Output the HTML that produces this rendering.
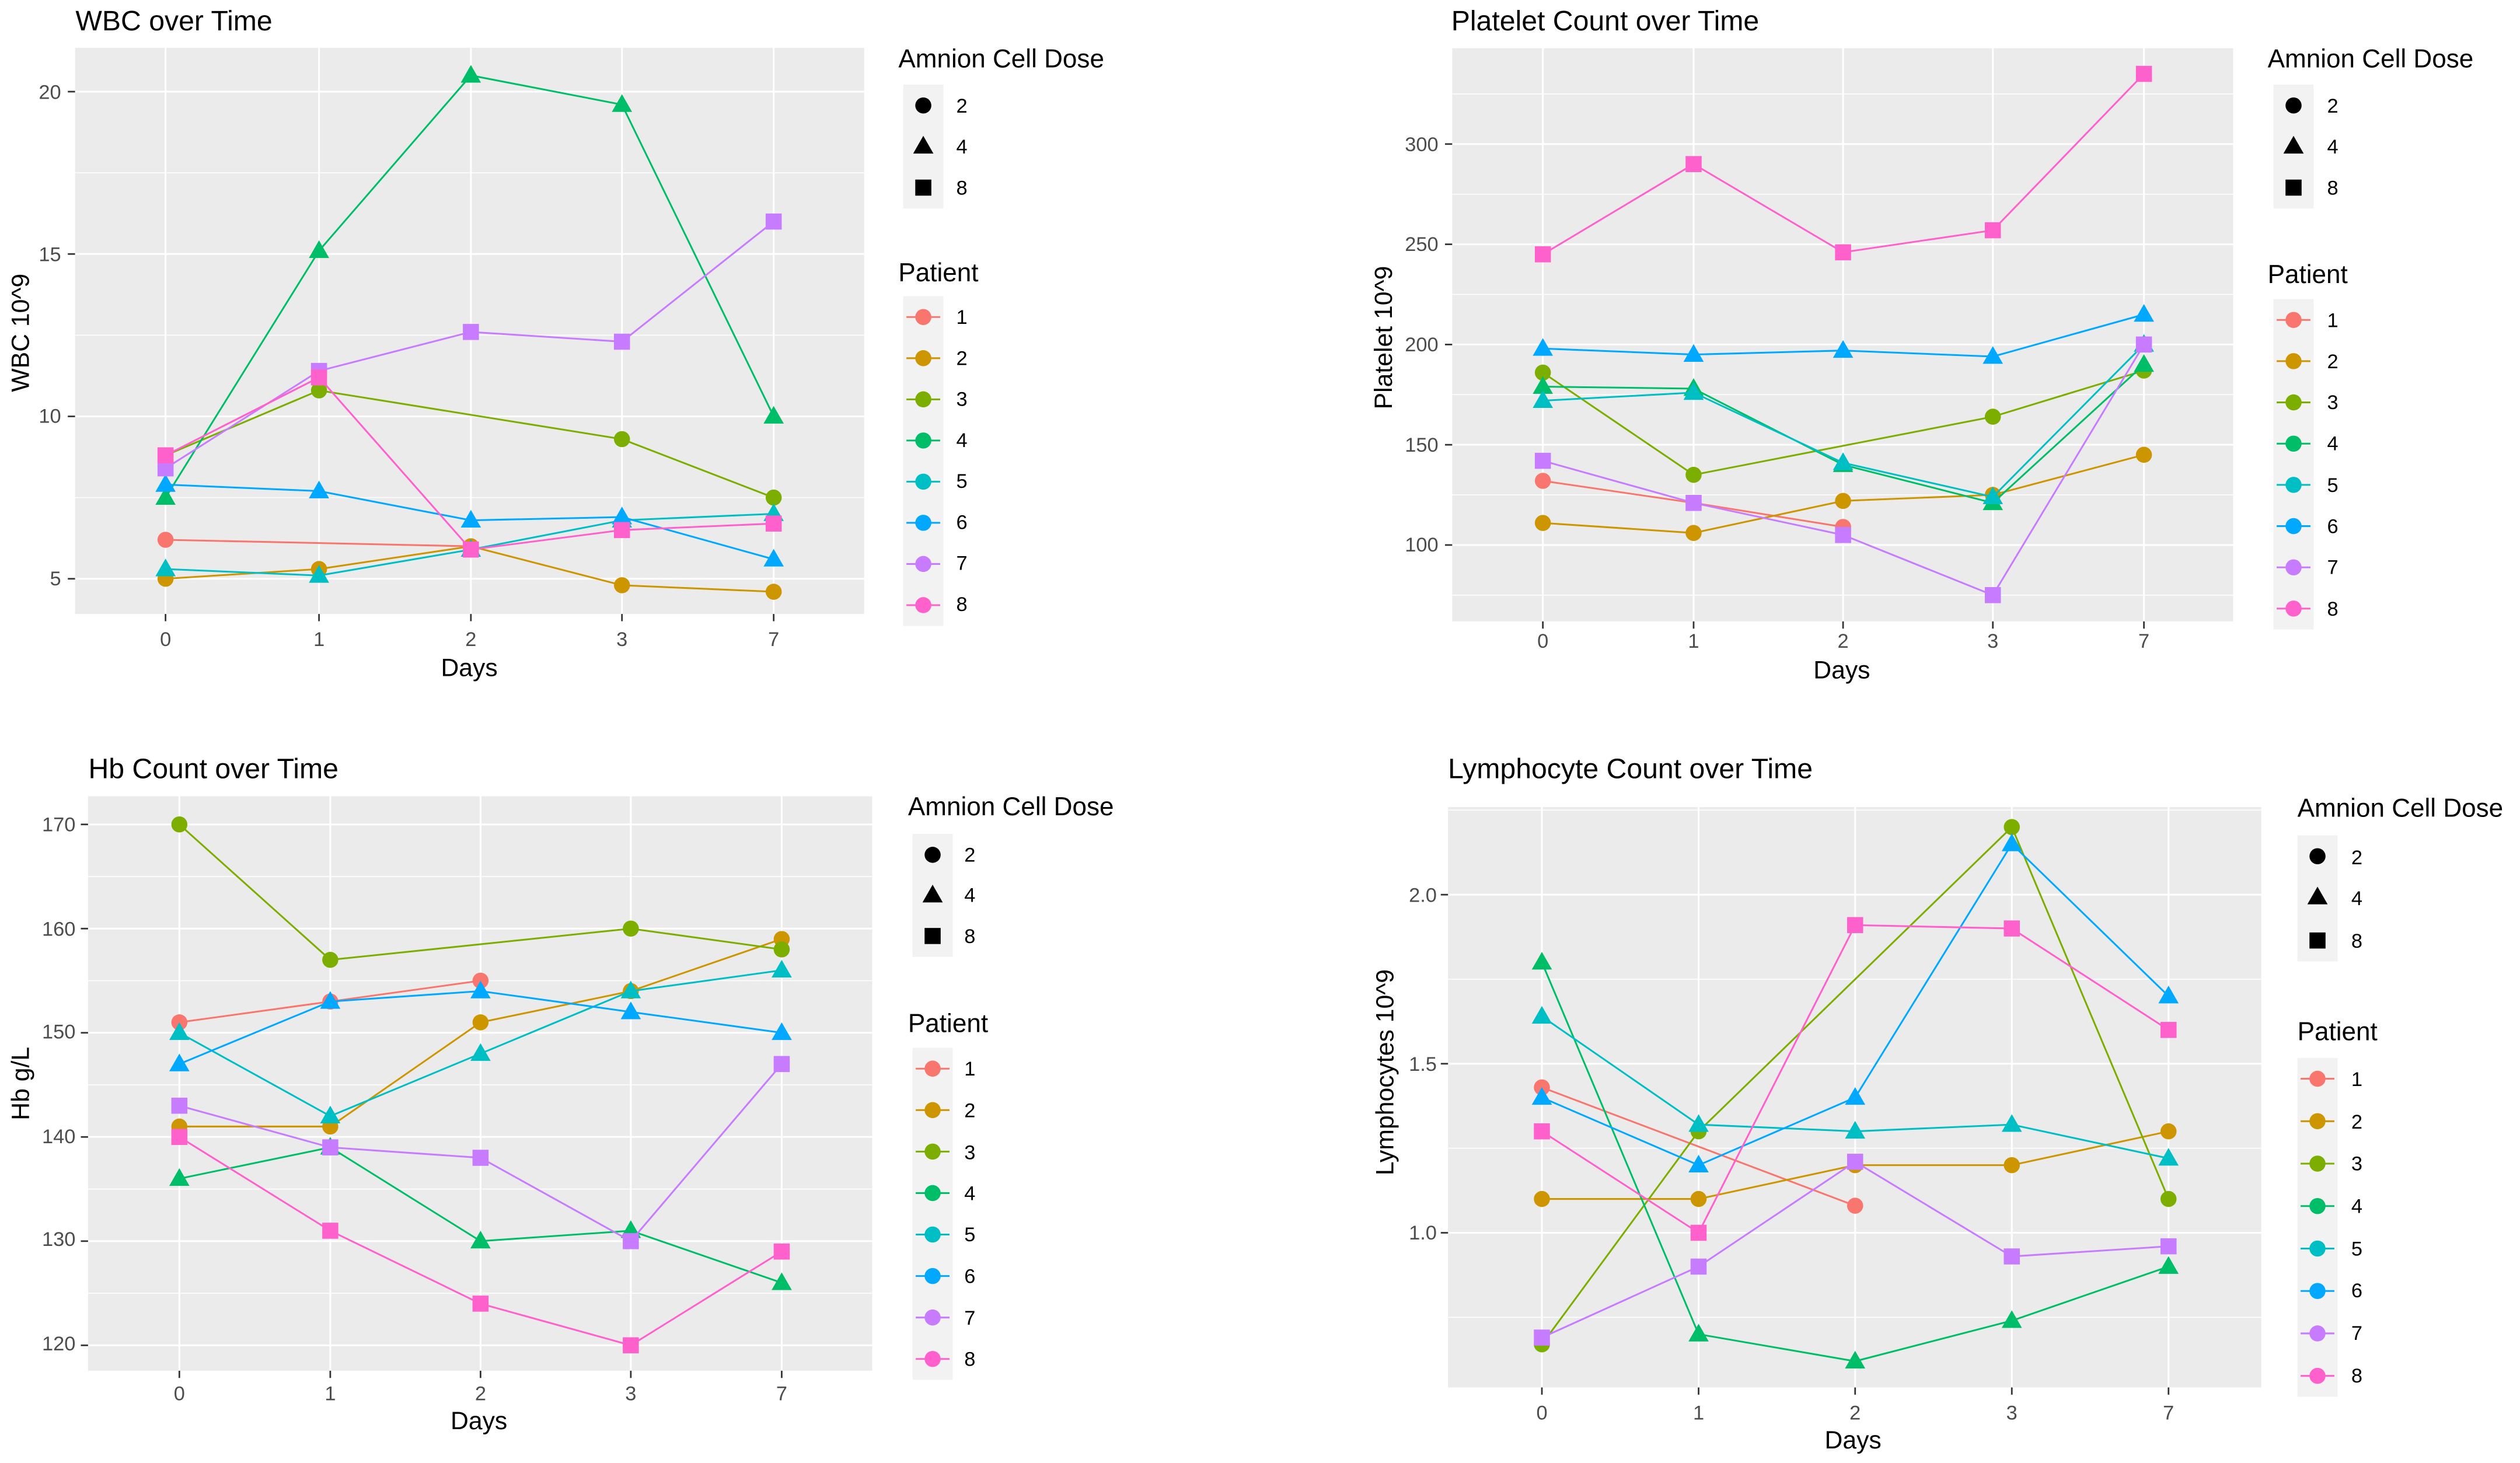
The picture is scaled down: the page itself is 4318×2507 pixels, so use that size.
<!DOCTYPE html>
<html><head><meta charset="utf-8"><style>
html,body{margin:0;padding:0;background:#fff;}
svg{display:block;}
text{font-family:"Liberation Sans",sans-serif;}
.t{font-size:17.5px;fill:#000;}
.tk{font-size:12.5px;fill:#4d4d4d;}
.ax{font-size:15.5px;fill:#000;}
.lt{font-size:16px;fill:#000;}
.ll{font-size:12.5px;fill:#000;}
</style></head><body>
<svg id="s" width="4318" height="2507" viewBox="0 0 1568 910" preserveAspectRatio="none" xmlns="http://www.w3.org/2000/svg">
<g id="g"></g>
<!-- WBC -->
<text class="t" x="47" y="18.8">WBC over Time</text>
<g class="tk" text-anchor="end"><text x="38" y="61.5">20</text><text x="38" y="162.5">15</text><text x="38" y="263">10</text><text x="38" y="364">5</text></g>
<g class="tk" text-anchor="middle"><text x="103" y="401.8">0</text><text x="198.5" y="401.8">1</text><text x="293" y="401.8">2</text><text x="387" y="401.8">3</text><text x="481.4" y="401.8">7</text></g>
<text class="ax" x="292" y="420.5" text-anchor="middle">Days</text>
<text class="ax" transform="translate(18,207) rotate(-90)" text-anchor="middle">WBC  10^9</text>
<text class="lt" x="559" y="42">Amnion Cell Dose</text>
<text class="lt" x="559" y="175">Patient</text>
<g class="ll"><text x="595" y="70">2</text><text x="595" y="95.5">4</text><text x="595" y="121">8</text>
<text x="595" y="201.5">1</text><text x="595" y="227">2</text><text x="595" y="252.5">3</text><text x="595" y="278">4</text><text x="595" y="303.5">5</text><text x="595" y="329">6</text><text x="595" y="354.5">7</text><text x="595" y="380">8</text></g>
<!-- Platelet -->
<text class="t" x="903" y="18.8">Platelet Count over Time</text>
<g class="tk" text-anchor="end"><text x="895" y="94">300</text><text x="895" y="156">250</text><text x="895" y="218.5">200</text><text x="895" y="281">150</text><text x="895" y="343">100</text></g>
<g class="tk" text-anchor="middle"><text x="960" y="403">0</text><text x="1053.8" y="403">1</text><text x="1146.8" y="403">2</text><text x="1240" y="403">3</text><text x="1334" y="403">7</text></g>
<text class="ax" x="1146" y="422" text-anchor="middle">Days</text>
<text class="ax" transform="translate(866,210) rotate(-90)" text-anchor="middle">Platelet  10^9</text>
<text class="lt" x="1411" y="42">Amnion Cell Dose</text>
<text class="lt" x="1411" y="176">Patient</text>
<g class="ll"><text x="1448" y="70">2</text><text x="1448" y="95.5">4</text><text x="1448" y="121">8</text>
<text x="1448" y="203.5">1</text><text x="1448" y="229">2</text><text x="1448" y="254.5">3</text><text x="1448" y="280">4</text><text x="1448" y="306">5</text><text x="1448" y="331.5">6</text><text x="1448" y="357">7</text><text x="1448" y="383">8</text></g>
<!-- Hb -->
<text class="t" x="55" y="484">Hb Count over Time</text>
<g class="tk" text-anchor="end"><text x="47" y="517">170</text><text x="47" y="582">160</text><text x="47" y="646">150</text><text x="47" y="711">140</text><text x="47" y="775">130</text><text x="47" y="840">120</text></g>
<g class="tk" text-anchor="middle"><text x="111.6" y="871">0</text><text x="205.5" y="871">1</text><text x="299" y="871">2</text><text x="392.5" y="871">3</text><text x="486.4" y="871">7</text></g>
<text class="ax" x="298" y="889" text-anchor="middle">Days</text>
<text class="ax" transform="translate(18,674) rotate(-90)" text-anchor="middle">Hb g/L</text>
<text class="lt" x="565" y="507">Amnion Cell Dose</text>
<text class="lt" x="565" y="642">Patient</text>
<g class="ll"><text x="600" y="536">2</text><text x="600" y="561">4</text><text x="600" y="586.5">8</text>
<text x="600" y="669">1</text><text x="600" y="695">2</text><text x="600" y="721">3</text><text x="600" y="746.5">4</text><text x="600" y="772">5</text><text x="600" y="798">6</text><text x="600" y="824">7</text><text x="600" y="849.5">8</text></g>
<!-- Lymph -->
<text class="t" x="901" y="484">Lymphocyte Count over Time</text>
<g class="tk" text-anchor="end"><text x="894" y="561">2.0</text><text x="894" y="666">1.5</text><text x="894" y="771">1.0</text></g>
<g class="tk" text-anchor="middle"><text x="959.4" y="883">0</text><text x="1056.9" y="883">1</text><text x="1154.3" y="883">2</text><text x="1251.8" y="883">3</text><text x="1349.3" y="883">7</text></g>
<text class="ax" x="1153" y="901" text-anchor="middle">Days</text>
<text class="ax" transform="translate(867,667) rotate(-90)" text-anchor="middle">Lymphocytes  10^9</text>
<text class="lt" x="1429.5" y="508">Amnion Cell Dose</text>
<text class="lt" x="1429.5" y="647">Patient</text>
<g class="ll"><text x="1463" y="537.5">2</text><text x="1463" y="563">4</text><text x="1463" y="589.5">8</text>
<text x="1463" y="675.5">1</text><text x="1463" y="702">2</text><text x="1463" y="728">3</text><text x="1463" y="754.5">4</text><text x="1463" y="781">5</text><text x="1463" y="807">6</text><text x="1463" y="833.5">7</text><text x="1463" y="860">8</text></g>
</svg>
<script>
var NS="http://www.w3.org/2000/svg",G=document.getElementById("g");
function el(n,a){var e=document.createElementNS(NS,n);for(var k in a)e.setAttribute(k,a[k]);G.appendChild(e);return e;}
var C=["#F8766D","#CD9600","#7CAE00","#00BE67","#00BFC4","#00A9FF","#C77CFF","#FF61CC"];
var SH=["c","c","c","t","t","t","s","s"];
function mk(s,x,y,c){
 if(s=="c")el("circle",{cx:x,cy:y,r:5,fill:c});
 else if(s=="t")el("polygon",{points:(x-6.3)+","+(y+4.5)+" "+(x+6.3)+","+(y+4.5)+" "+x+","+(y-6.5),fill:c});
 else el("rect",{x:x-5,y:y-5,width:10,height:10,fill:c});
}
function panel(p){
 el("rect",{x:p.x0,y:p.y0,width:p.x1-p.x0,height:p.y1-p.y0,fill:"#ebebeb"});
 function Y(v){return p.p0+(v-p.v0)*(p.p1-p.p0)/(p.v1-p.v0);}
 p.minor.forEach(function(v){el("line",{x1:p.x0,x2:p.x1,y1:Y(v),y2:Y(v),stroke:"#fff","stroke-width":0.55});});
 p.major.forEach(function(v){var y=Y(v);el("line",{x1:p.x0,x2:p.x1,y1:y,y2:y,stroke:"#fff","stroke-width":1.1});
  el("line",{x1:p.x0-4.5,x2:p.x0,y1:y,y2:y,stroke:"#333","stroke-width":1});});
 p.xt.forEach(function(x){el("line",{x1:x,x2:x,y1:p.y0,y2:p.y1,stroke:"#fff","stroke-width":1.1});
  el("line",{x1:x,x2:x,y1:p.y1,y2:p.y1+4.5,stroke:"#333","stroke-width":1});});
 p.d.forEach(function(row,i){
  var pts=[];row.forEach(function(v,j){if(v!=null)pts.push([p.xt[j],Y(v)]);});
  el("polyline",{points:pts.map(function(q){return q.join(",")}).join(" "),fill:"none",stroke:C[i],"stroke-width":1.1});
  pts.forEach(function(q){mk(SH[i],q[0],q[1],C[i]);});
 });
 // legends
 var L=p.leg;
 el("rect",{x:L.x,y:L.a[0]-13,width:25,height:L.a[2]-L.a[0]+26,fill:"#f2f2f2"});
 ["c","t","s"].forEach(function(s,i){mk(s,L.x+12.5,L.a[i],"#000");});
 el("rect",{x:L.x,y:L.p[0]-13,width:25,height:L.p[7]-L.p[0]+26,fill:"#f2f2f2"});
 L.p.forEach(function(y,i){el("line",{x1:L.x+2,x2:L.x+23,y1:y,y2:y,stroke:C[i],"stroke-width":1.1});mk("c",L.x+12.5,y,C[i]);});
}
function seq(a,b,n){var r=[];for(var i=0;i<8;i++)r.push(a+i*b);return r;}
panel({x0:46.7,x1:537.7,y0:29.7,y1:381.9,xt:[103,198.5,293,387,481.4],v0:20,p0:57,v1:5,p1:360,
 major:[5,10,15,20],minor:[7.5,12.5,17.5],
 d:[[6.2,null,6.0,null,null],[5.0,5.3,6.0,4.8,4.6],[8.8,10.8,null,9.3,7.5],[7.5,15.1,20.5,19.6,10.0],[5.3,5.1,5.9,6.8,7.0],[7.9,7.7,6.8,6.9,5.6],[8.4,11.4,12.6,12.3,16.0],[8.8,11.2,5.9,6.5,6.7]],
 leg:{x:562,a:[65.6,91,116.7],p:seq(197.2,25.6)}});
panel({x0:903.6,x1:1389.5,y0:30,y1:386.5,xt:[960,1053.8,1146.8,1240,1334],v0:300,p0:89.6,v1:100,p1:339,
 major:[100,150,200,250,300],minor:[75,125,175,225,275,325],
 d:[[132,121,109,null,null],[111,106,122,125,145],[186,135,null,164,187],[179,178,140,121,190],[172,176,141,124,200],[198,195,197,194,215],[142,121,105,75,200],[245,290,246,257,335]],
 leg:{x:1414.6,a:[65.6,91,116.7],p:seq(199,25.65)}});
panel({x0:54.8,x1:542.7,y0:495.3,y1:852.6,xt:[111.6,205.5,299,392.5,486.4],v0:170,p0:512.8,v1:120,p1:836.8,
 major:[120,130,140,150,160,170],minor:[125,135,145,155,165],
 d:[[151,153,155,null,null],[141,141,151,154,159],[170,157,null,160,158],[136,139,130,131,126],[150,142,148,154,156],[147,153,154,152,150],[143,139,138,130,147],[140,131,124,120,129]],
 leg:{x:567.8,a:[531.7,556.8,582.2],p:seq(664.7,25.8)}});
panel({x0:901,x1:1407,y0:502,y1:863,xt:[959.4,1056.9,1154.3,1251.8,1349.3],v0:2.0,p0:556.5,v1:1.0,p1:766.8,
 major:[1.0,1.5,2.0],minor:[0.75,1.25,1.75,2.25],
 d:[[1.43,null,1.08,null,null],[1.1,1.1,1.2,1.2,1.3],[0.67,1.3,null,2.2,1.1],[1.8,0.7,0.62,0.74,0.9],[1.64,1.32,1.3,1.32,1.22],[1.4,1.2,1.4,2.15,1.7],[0.69,0.9,1.21,0.93,0.96],[1.3,1.0,1.91,1.9,1.6]],
 leg:{x:1429.5,a:[532.6,558,585],p:seq(671,26.4)}});
</script>
</body></html>
